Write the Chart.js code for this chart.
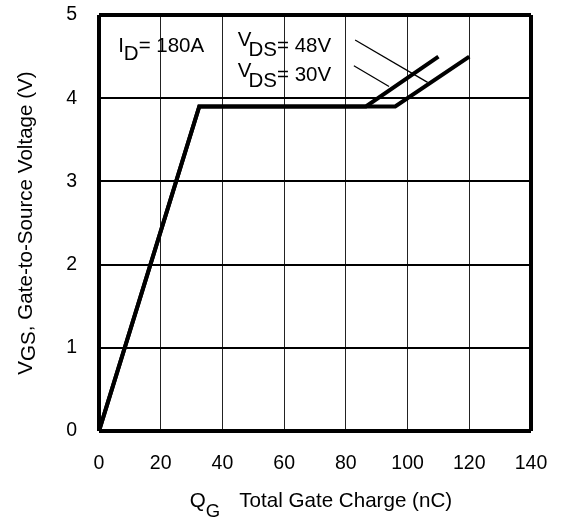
<!DOCTYPE html>
<html>
<head>
<meta charset="utf-8">
<title>Gate Charge</title>
<script src="https://cdn.jsdelivr.net/npm/chart.js@4.4.1/dist/chart.umd.min.js"></script>
<style>
  html, body { margin: 0; padding: 0; background: #fff; }
  #wrap { width: 561px; height: 517px; }
</style>
</head>
<body>
<div id="wrap"><canvas id="qg-chart" width="561" height="517"></canvas></div>
<script>
const FONT = '"Liberation Sans", Arial, Helvetica, sans-serif';

// axis ticks
const qgTicks = [0, 20, 40, 60, 80, 100, 120, 140];
const vgsTicks = [0, 1, 2, 3, 4, 5];

// gate charge curves (nC, V)
const vds48Q = [0, 32.5, 86.5, 110];
const vds48V = [0, 3.9, 3.9, 4.5];
const vds30Q = [0, 32.5, 96, 120];
const vds30V = [0, 3.9, 3.9, 4.5];

// thin leader lines from the labels to the curves
const lead48Q = [83, 106.5];
const lead48V = [4.70, 4.19];
const lead30Q = [82.6, 94];
const lead30V = [4.39, 4.14];

const toPts = (xs, ys) => xs.map((x, i) => ({ x, y: ys[i] }));

// text with sub/superscripts: a list of runs drawn one after the other
function drawRuns(ctx, x, y, runs, size) {
  for (const r of runs) {
    if (r.gap) { x += r.gap; continue; }
    ctx.font = `${r.size || size}px ${FONT}`;
    ctx.fillText(r.text, x, y + (r.dy || 0));
    x += ctx.measureText(r.text).width + (r.kern || 0);
  }
  return x;
}
function runsWidth(ctx, runs, size) {
  let w = 0;
  for (const r of runs) {
    if (r.gap) { w += r.gap; continue; }
    ctx.font = `${r.size || size}px ${FONT}`;
    w += ctx.measureText(r.text).width + (r.kern || 0);
  }
  return w;
}

const textPlugin = {
  id: 'qgText',
  afterDraw(chart) {
    const { ctx, chartArea: a, scales: { x, y } } = chart;
    ctx.save();
    ctx.fillStyle = '#000';
    ctx.textAlign = 'left';
    ctx.textBaseline = 'alphabetic';

    drawRuns(ctx, x.getPixelForValue(6.2), y.getPixelForValue(4.55),
      [{ text: 'I' }, { text: 'D', dy: 7.5 }, { text: '= 180A' }], 20.5);
    drawRuns(ctx, x.getPixelForValue(45), y.getPixelForValue(4.55),
      [{ text: 'V', dy: -6.7, kern: -3 }, { text: 'DS', dy: 3.3 }, { text: '= 48V' }], 20.5);
    drawRuns(ctx, x.getPixelForValue(45), y.getPixelForValue(4.21),
      [{ text: 'V', dy: -3.3, kern: -3 }, { text: 'DS', dy: 6.7 }, { text: '= 30V' }], 20.5);

    // x title
    const xt = [{ text: 'Q' }, { text: 'G', dy: 9.5, size: 18.5 }, { gap: 19 }, { text: 'Total Gate Charge (nC)' }];
    const xw = runsWidth(ctx, xt, 20.6);
    drawRuns(ctx, (a.left + a.right) / 2 + 6 - xw / 2, a.bottom + 76, xt, 20.6);

    // y title, rotated
    const yt = [{ text: 'V' }, { text: 'GS', dy: 2.5 }, { text: ', Gate-to-Source Voltage (V)' }];
    const yw = runsWidth(ctx, yt, 20.6);
    ctx.translate(32, (a.top + a.bottom) / 2);
    ctx.rotate(-Math.PI / 2);
    drawRuns(ctx, -yw / 2, 0, yt, 20.6);
    ctx.restore();
  }
};

const curve = { borderColor: '#000', borderWidth: 4, pointRadius: 0, tension: 0, borderJoinStyle: 'miter', fill: false };
const leader = { borderColor: '#000', borderWidth: 1.3, pointRadius: 0, tension: 0, fill: false };

new Chart(document.getElementById('qg-chart'), {
  type: 'line',
  data: {
    datasets: [
      { ...curve, data: toPts(vds48Q, vds48V) },
      { ...curve, data: toPts(vds30Q, vds30V) },
      { ...leader, data: toPts(lead48Q, lead48V) },
      { ...leader, data: toPts(lead30Q, lead30V) },
    ]
  },
  options: {
    responsive: false,
    animation: false,
    layout: { padding: { top: 15, right: 30, left: 0, bottom: 0 } },
    plugins: { legend: { display: false }, tooltip: { enabled: false } },
    scales: {
      x: {
        type: 'linear', min: 0, max: 140,
        afterBuildTicks: s => { s.ticks = qgTicks.map(v => ({ value: v })); },
        afterFit: s => { s.height = 86; s.paddingLeft = 0; s.paddingRight = 0; },
        ticks: { color: '#000', font: { size: 19.5, family: FONT }, padding: 21, maxRotation: 0 },
        grid: {
          color: c => (c.tick && (c.tick.value === 0 || c.tick.value === 140)) ? '#000' : '#222',
          drawTicks: false,
          lineWidth: c => (c.tick && (c.tick.value === 0 || c.tick.value === 140)) ? 4 : 1,
        },
        border: { display: false },
      },
      y: {
        type: 'linear', min: 0, max: 5,
        afterBuildTicks: s => { s.ticks = vgsTicks.map(v => ({ value: v })); },
        afterFit: s => { s.width = 99; s.paddingTop = 0; s.paddingBottom = 0; },
        ticks: { color: '#000', font: { size: 19.5, family: FONT }, padding: 22 },
        grid: {
          color: '#000', drawTicks: false,
          lineWidth: c => (c.tick && (c.tick.value === 0 || c.tick.value === 5)) ? 4 : 2,
        },
        border: { display: false },
      }
    }
  },
  plugins: [textPlugin]
});
</script>
</body>
</html>
